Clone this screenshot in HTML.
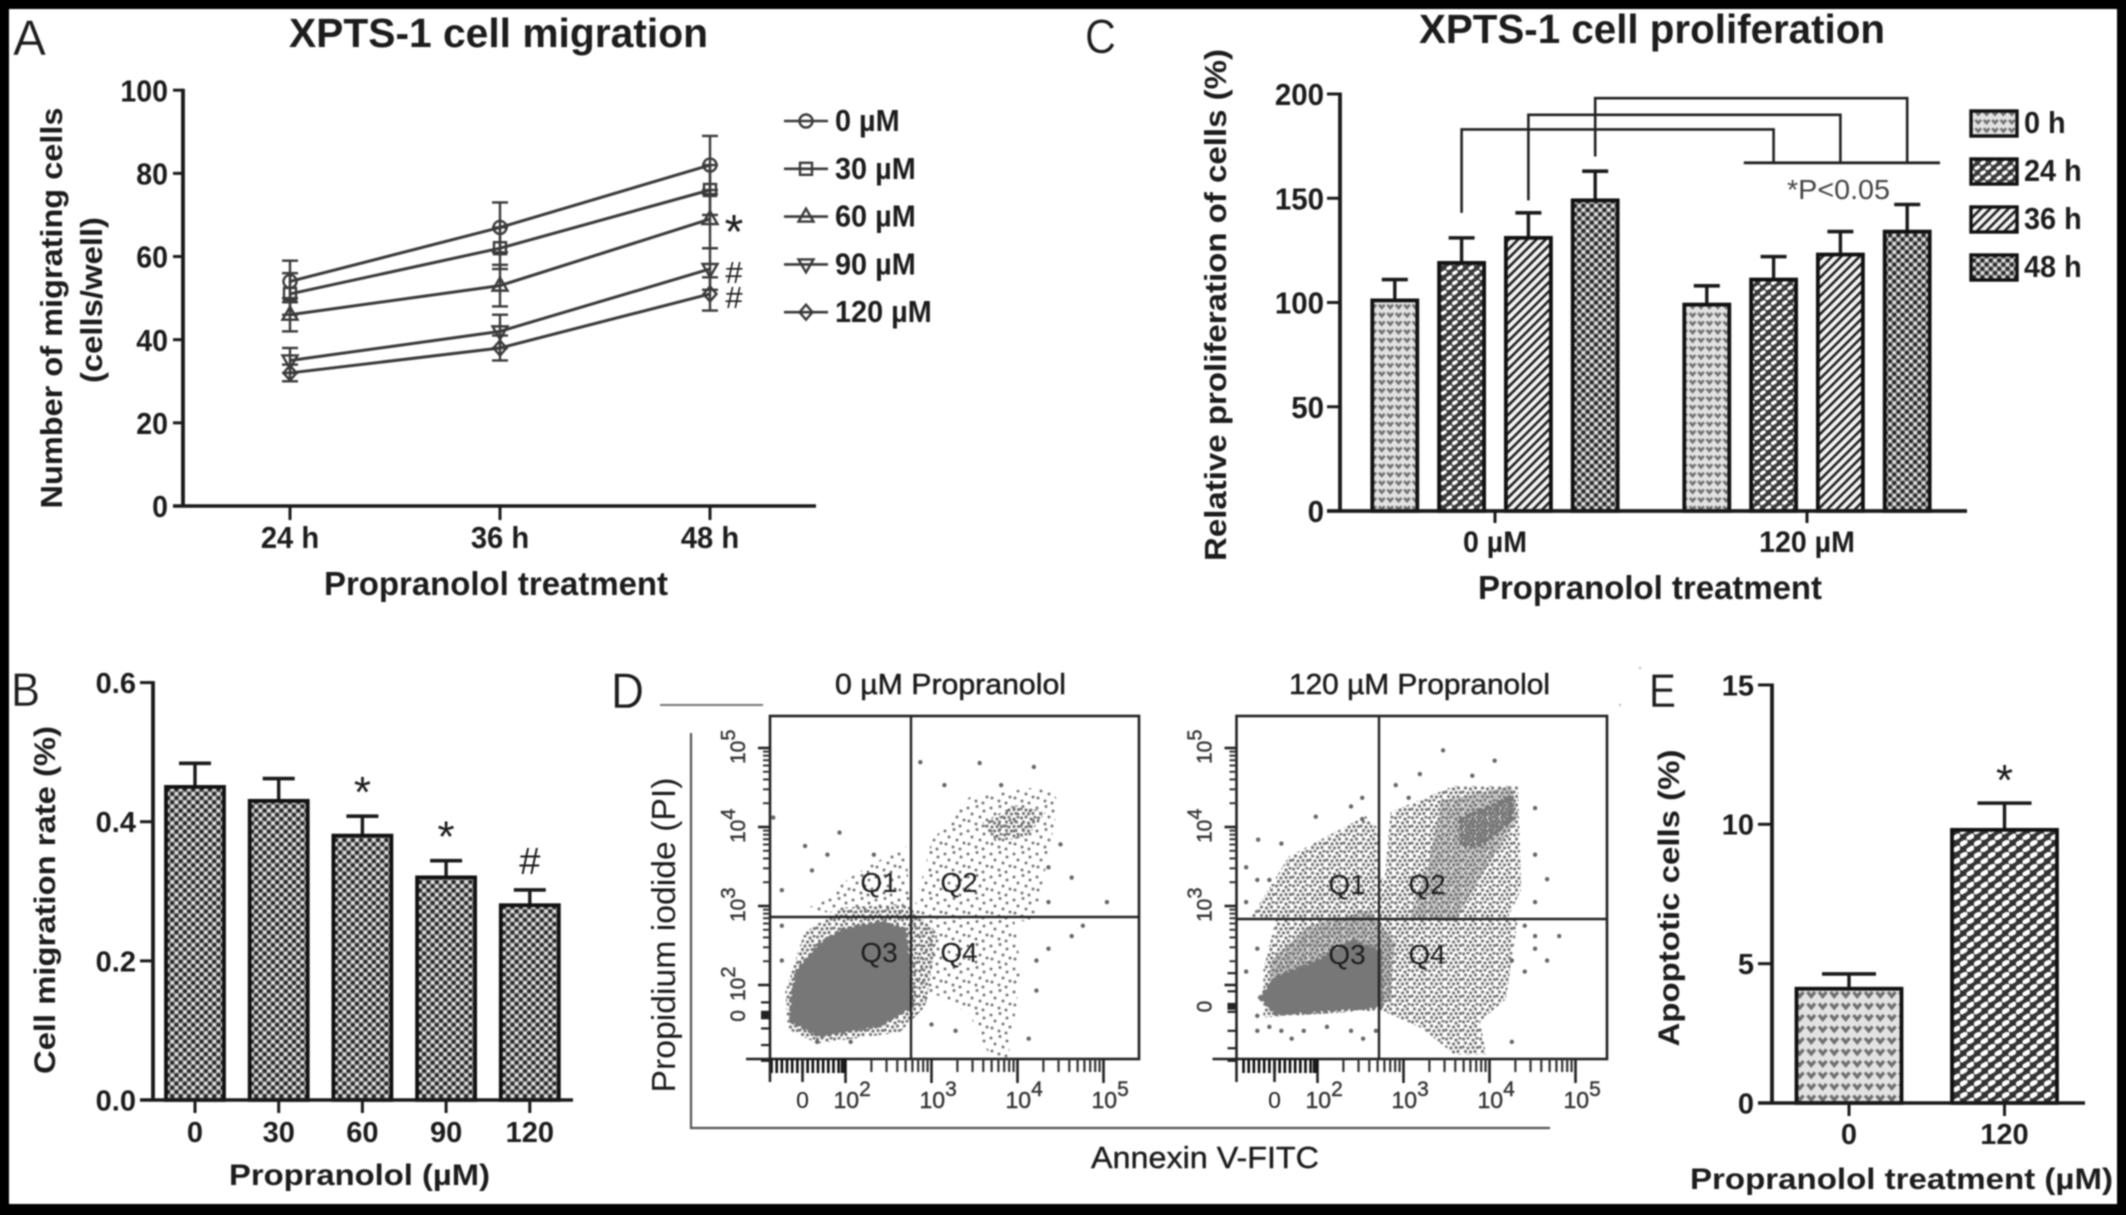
<!DOCTYPE html>
<html lang="en"><head><meta charset="utf-8"><title>XPTS-1 propranolol figure</title>
<style>
html,body{margin:0;padding:0;background:#000;width:2126px;height:1215px;overflow:hidden}
svg{display:block;filter:blur(.75px);font-family:"Liberation Sans",sans-serif}
text{fill:#1c1c1c}
</style></head><body>
<svg id="fig" xmlns="http://www.w3.org/2000/svg" width="2126" height="1215" viewBox="0 0 2126 1215">
<defs>
<pattern id="pHeart" width="8.4" height="8.4" patternUnits="userSpaceOnUse"><rect width="8.4" height="8.4" fill="#e2e2e2"/><path d="M1.4 2.2 L4.2 5.4 L7 2.2" fill="none" stroke="#707070" stroke-width="2.6"/></pattern>
<pattern id="pHeartBig" width="11.5" height="11.5" patternUnits="userSpaceOnUse"><rect width="11.5" height="11.5" fill="#e2e2e2"/><path d="M2 3 L5.7 7.4 L9.5 3" fill="none" stroke="#707070" stroke-width="3.3"/></pattern>
<pattern id="pDash" width="11" height="10" patternUnits="userSpaceOnUse"><rect width="11" height="10" fill="#3a3a3a"/><path d="M1.6 3.4 L4 2 M7.1 8.4 L9.5 7" stroke="#fff" stroke-width="3.6" stroke-linecap="round"/></pattern>
<pattern id="pDashBig" width="14" height="12" patternUnits="userSpaceOnUse"><rect width="14" height="12" fill="#333"/><path d="M1.8 4 L5.2 2 M8.8 10 L12.2 8" stroke="#fff" stroke-width="4.9" stroke-linecap="round"/></pattern>
<pattern id="pHatch" width="6.5" height="6.5" patternUnits="userSpaceOnUse" patternTransform="rotate(45)"><rect width="6.5" height="6.5" fill="#f4f4f4"/><rect width="2.6" height="6.5" fill="#222"/></pattern>
<pattern id="pDots" width="8.4" height="8.4" patternUnits="userSpaceOnUse"><rect width="8.4" height="8.4" fill="#949494"/><circle cx="0" cy="0" r="2" fill="#262626"/><circle cx="8.4" cy="0" r="2" fill="#262626"/><circle cx="0" cy="8.4" r="2" fill="#262626"/><circle cx="8.4" cy="8.4" r="2" fill="#262626"/><circle cx="4.2" cy="4.2" r="2" fill="#262626"/><circle cx="4.2" cy="0" r="1.6" fill="#eaeaea"/><circle cx="4.2" cy="8.4" r="1.6" fill="#eaeaea"/><circle cx="0" cy="4.2" r="1.6" fill="#eaeaea"/><circle cx="8.4" cy="4.2" r="1.6" fill="#eaeaea"/></pattern>
<pattern id="pSparse" width="23" height="23" patternUnits="userSpaceOnUse" fill="#777"><circle cx="2" cy="3" r="1.5"/><circle cx="11" cy="1.5" r="1.5"/><circle cx="18" cy="6" r="1.5"/><circle cx="6" cy="9" r="1.5"/><circle cx="14" cy="12" r="1.5"/><circle cx="21" cy="15" r="1.5"/><circle cx="3" cy="16" r="1.5"/><circle cx="10" cy="19" r="1.5"/><circle cx="17" cy="21" r="1.5"/></pattern>
<pattern id="pMedium" width="17" height="17" patternUnits="userSpaceOnUse" fill="#777"><circle cx="1.5" cy="2" r="1.6"/><circle cx="6" cy="1" r="1.6"/><circle cx="11" cy="3" r="1.6"/><circle cx="15" cy="1" r="1.6"/><circle cx="3.5" cy="6" r="1.6"/><circle cx="8.5" cy="7" r="1.6"/><circle cx="13.5" cy="6" r="1.6"/><circle cx="1" cy="10" r="1.6"/><circle cx="6" cy="11" r="1.6"/><circle cx="11" cy="10.5" r="1.6"/><circle cx="15.5" cy="10.5" r="1.6"/><circle cx="3.5" cy="14.5" r="1.6"/><circle cx="8.5" cy="15" r="1.6"/><circle cx="13" cy="14.5" r="1.6"/></pattern>
<pattern id="pDense" width="12" height="12" patternUnits="userSpaceOnUse" fill="#777"><circle cx="1" cy="1.5" r="1.9"/><circle cx="5" cy="1" r="1.9"/><circle cx="9" cy="2" r="1.9"/><circle cx="3" cy="4.7" r="1.9"/><circle cx="7" cy="5" r="1.9"/><circle cx="11" cy="5" r="1.9"/><circle cx="1" cy="8" r="1.9"/><circle cx="5" cy="8.5" r="1.9"/><circle cx="9" cy="8" r="1.9"/><circle cx="3" cy="11" r="1.9"/><circle cx="7.5" cy="11.5" r="1.9"/><circle cx="11" cy="11" r="1.9"/></pattern>
</defs>
<rect x="0" y="0" width="2126" height="1215" fill="#000"/>
<rect x="9" y="9" width="2108" height="1195" fill="#fff"/>

<g id="panelA">
<text x="13" y="55" font-size="50" stroke="#fff" stroke-width=".4" textLength="33" lengthAdjust="spacingAndGlyphs">A</text>
<text x="289" y="47" font-size="41" font-weight="700" textLength="419" lengthAdjust="spacingAndGlyphs">XPTS-1 cell migration</text>
<text transform="rotate(-90 62 308)" x="62" y="308" font-size="31" font-weight="700" text-anchor="middle" textLength="401" lengthAdjust="spacingAndGlyphs">Number of migrating cells</text>
<text transform="rotate(-90 102 300)" x="102" y="300" font-size="31" font-weight="700" text-anchor="middle" textLength="166" lengthAdjust="spacingAndGlyphs">(cells/well)</text>
<text x="324" y="595" font-size="33" font-weight="700" textLength="344" lengthAdjust="spacingAndGlyphs">Propranolol treatment</text>
</g>

<g id="panelC">
<text x="1085" y="53" font-size="48" stroke="#fff" stroke-width=".4" textLength="31" lengthAdjust="spacingAndGlyphs">C</text>
<text x="1419" y="43" font-size="41" font-weight="700" textLength="466" lengthAdjust="spacingAndGlyphs">XPTS-1 cell proliferation</text>
<text transform="rotate(-90 1226 305)" x="1226" y="305" font-size="31" font-weight="700" text-anchor="middle" textLength="512" lengthAdjust="spacingAndGlyphs">Relative proliferation of cells (%)</text>
<text x="1478" y="599" font-size="33" font-weight="700" textLength="344" lengthAdjust="spacingAndGlyphs">Propranolol treatment</text>
<text x="1787" y="199" font-size="28" fill="#444" style="fill:#444" textLength="103" lengthAdjust="spacingAndGlyphs">*P&lt;0.05</text>
</g>

<g id="panelB">
<text x="11" y="706" font-size="47" stroke="#fff" stroke-width=".4" textLength="29" lengthAdjust="spacingAndGlyphs">B</text>
<text transform="rotate(-90 55 900)" x="55" y="900" font-size="30" font-weight="700" text-anchor="middle" textLength="348" lengthAdjust="spacingAndGlyphs">Cell migration rate (%)</text>
<text x="229" y="1185" font-size="30" font-weight="700" textLength="261" lengthAdjust="spacingAndGlyphs">Propranolol (µM)</text>
</g>

<g id="panelD">
<text x="611" y="708" font-size="50" stroke="#fff" stroke-width=".4" textLength="33" lengthAdjust="spacingAndGlyphs">D</text>
<line x1="660" x2="763" y1="705" y2="705" stroke="#777" stroke-width="2"/>
<text x="835" y="694" font-size="29" stroke="#1c1c1c" stroke-width=".5" textLength="231" lengthAdjust="spacingAndGlyphs">0 µM Propranolol</text>
<text x="1289" y="694" font-size="29" stroke="#1c1c1c" stroke-width=".5" textLength="261" lengthAdjust="spacingAndGlyphs">120 µM Propranolol</text>
<path d="M691 733 V1128 H1550" fill="none" stroke="#555" stroke-width="2.2"/>
<text transform="rotate(-90 675 935)" x="675" y="935" font-size="33" text-anchor="middle" textLength="315" lengthAdjust="spacingAndGlyphs">Propidium iodide (PI)</text>
<text x="1091" y="1168" font-size="31" stroke="#1c1c1c" stroke-width=".4" textLength="228" lengthAdjust="spacingAndGlyphs">Annexin V-FITC</text>
</g>

<g id="panelE">
<text x="1649" y="707" font-size="47" stroke="#fff" stroke-width=".4" textLength="27" lengthAdjust="spacingAndGlyphs">E</text>
<circle cx="1640" cy="668" r="1.2" fill="#bbb"/>
<circle cx="1620" cy="705" r="1.2" fill="#bbb"/>
<text transform="rotate(-90 1679 898)" x="1679" y="898" font-size="30" font-weight="700" text-anchor="middle" textLength="297" lengthAdjust="spacingAndGlyphs">Apoptotic cells (%)</text>
<text x="1690" y="1189" font-size="30" font-weight="700" textLength="423" lengthAdjust="spacingAndGlyphs">Propranolol treatment (µM)</text>
</g>
</svg>
<script>
/* ---------- Panel A data ---------- */
const migrationTimes = ['24 h', '36 h', '48 h'];
const migrationDoses = ['0 µM', '30 µM', '60 µM', '90 µM', '120 µM'];
const migration0 = [54, 67, 82];
const migration30 = [51, 62, 76];
const migration60 = [46, 53, 69];
const migration90 = [35, 42, 57];
const migration120 = [32, 38, 51];
const migrationErr0 = [5, 6, 7];
const migrationErr30 = [5, 5, 6];
const migrationErr60 = [4, 5, 7];
const migrationErr90 = [3, 4, 5];
const migrationErr120 = [2, 3, 4];
const migrationTicks = [0, 20, 40, 60, 80, 100];
const migrationMarks = ['', '', '*', '#', '#'];

/* ---------- Panel B data ---------- */
const rateDoses = ['0', '30', '60', '90', '120'];
const rateValues = [0.45, 0.43, 0.38, 0.32, 0.28];
const rateErrors = [0.034, 0.032, 0.028, 0.024, 0.022];
const rateTicks = ['0.0', '0.2', '0.4', '0.6'];
const rateMarks = ['', '', '*', '*', '#'];

/* ---------- Panel C data ---------- */
const prolifGroups = ['0 µM', '120 µM'];
const prolifTimes = ['0 h', '24 h', '36 h', '48 h'];
const prolifControl = [101, 119, 131, 149];
const prolifTreated = [99, 111, 123, 134];
const prolifControlErr = [10, 12, 12, 14];
const prolifTreatedErr = [9, 11, 11, 13];
const prolifTicks = [0, 50, 100, 150, 200];
const bracketStart = [143, 149, 170];
const bracketTop = [183, 190, 198];
const bracketBase = [167];

/* ---------- Panel D data: log10 fluorescence [annexin, PI] ---------- */
const flowXExponents = [2, 3, 4, 5];
const flowYExponents = [2, 3, 4, 5];
const leftYLabelExponents = [2, 3, 4, 5];
const rightYLabelExponents = [3, 4, 5];
const flowMantissas = [2, 3, 4, 5, 6, 7, 8, 9];
const flowXLinearTicks = [1.14, 1.2, 1.26, 1.32, 1.38, 1.44, 1.5, 1.56, 1.62, 1.68, 1.74, 1.8, 1.86, 1.92, 1.96, 1.99];
const leftYLinearTicks = [1.04, 1.24, 1.45, 1.58, 1.6, 1.62, 1.64, 1.66, 1.78];
const rightYLinearTicks = [1.04, 1.2, 1.42, 1.66, 1.7, 1.72, 1.74, 1.76, 1.92, 2.15];
const leftCore = [[1.37,1.82],[1.44,2.19],[1.7,2.52],[1.96,2.7],[2.41,2.8],[2.7,2.7],[2.74,2.19],[2.78,1.73],[2.41,1.49],[1.7,1.35],[1.37,1.54]];
const leftHalo = [[1.3,1.91],[1.52,2.66],[1.96,2.98],[2.7,3.03],[3.07,2.66],[2.93,1.73],[2.63,1.4],[1.67,1.26],[1.33,1.44]];
const leftQ4 = [[2.78,2.84],[3.96,2.84],[4.04,2.19],[3.96,1.54],[3.89,1.08],[3.67,1.12],[3.44,1.63],[3.07,1.87],[2.78,1.73]];
const leftQ2 = [[2.78,2.89],[3.0,3.82],[3.44,4.38],[4.33,4.52],[4.48,4.33],[4.33,3.49],[4.19,2.8]];
const leftQ1 = [[1.52,2.93],[2.11,3.4],[2.7,3.77],[2.76,2.89]];
const leftSpot = [[3.59,4.05],[3.96,4.28],[4.33,4.19],[4.11,3.87],[3.74,3.82]];
const leftOutliers = [[2.87,4.82],[3.56,4.81],[4.19,4.76],[3.15,4.53],[3.81,4.53],[1.93,3.93],[1.16,4.12],[1.53,3.76],[1.79,3.65],[2.33,3.65],[1.61,3.45],[1.26,3.2],[4.5,3.78],[4.63,3.36],[4.36,3.49],[5.04,3.05],[4.36,3.05],[4.76,2.75],[4.63,2.62],[4.36,2.46],[4.22,2.31],[4.22,1.93],[1.26,2.75],[1.26,2.31],[1.67,1.28],[2.06,1.28],[3.28,1.42],[4.13,1.32],[3.0,1.5]];
const rightCore = [[1.33,1.84],[1.52,2.1],[1.96,2.28],[2.41,2.56],[2.74,2.42],[2.74,1.73],[2.19,1.68],[1.52,1.63]];
const rightMid = [[1.45,2.3],[1.9,2.75],[2.6,2.95],[2.9,2.55],[2.85,1.8],[2.6,1.7],[1.45,1.9]];
const rightHalo = [[1.37,2.19],[1.52,2.84],[1.96,3.21],[2.7,3.4],[3.3,2.84],[2.85,2.19],[2.74,1.68],[1.37,1.59]];
const rightUpperDense = [[3.44,4.33],[4.26,4.52],[4.33,4.14],[3.89,3.35],[3.59,2.8],[3.07,2.84],[3.3,3.59]];
const rightSpot = [[3.67,4.1],[4.26,4.38],[4.26,4.1],[3.89,3.77],[3.67,3.77]];
const rightQ2 = [[2.74,2.84],[2.85,4.19],[3.59,4.52],[4.33,4.52],[4.37,3.21],[4.19,2.8]];
const rightQ1 = [[1.22,2.84],[1.67,3.63],[2.56,4.14],[2.72,3.96],[2.74,2.84]];
const rightQ4 = [[2.74,2.84],[4.33,2.84],[4.19,1.82],[3.89,1.54],[3.96,1.12],[3.59,1.12],[3.22,1.45],[2.74,1.68]];
const rightOutliers = [[3.46,4.97],[4.06,4.84],[3.19,4.67],[3.8,4.65],[2.91,4.53],[3.06,4.37],[2.52,4.37],[2.39,4.26],[2.52,4.1],[1.98,4.13],[1.58,3.79],[1.31,3.84],[1.17,3.49],[1.3,3.33],[1.44,3.33],[1.17,3.05],[4.53,4.24],[4.53,3.65],[4.67,3.34],[4.53,3.05],[4.41,2.75],[4.81,2.62],[4.53,2.62],[4.53,2.46],[4.67,2.31],[4.41,2.17],[4.26,2.31],[1.17,2.17],[1.3,2.46],[1.3,1.61],[1.3,1.42],[1.44,1.47],[1.58,1.42],[1.7,1.32],[1.84,1.42],[2.11,1.47],[2.39,1.42],[2.53,1.32],[2.68,1.42],[4.26,1.28]];
const quadrantNames = ['Q1', 'Q2', 'Q3', 'Q4'];

/* ---------- Panel E data ---------- */
const apoptosisDoses = ['0', '120'];
const apoptosisValues = [4.1, 9.8];
const apoptosisErrors = [0.53, 0.96];
const apoptosisTicks = [0, 5, 10, 15];

/* ---------- helpers ---------- */
const NS = 'http://www.w3.org/2000/svg';
function make(tag, attrs, parent) {
  const el = document.createElementNS(NS, tag);
  for (const k in attrs) el.setAttribute(k, attrs[k]);
  parent.appendChild(el);
  return el;
}
function label(el, name) {
  
  
  return el;
}
function addLine(parent, name, x1, y1, x2, y2, width, color) {
  return label(make('line', {x1, y1, x2, y2, stroke: color || '#1a1a1a', 'stroke-width': width}, parent), name);
}
function addText(parent, name, str, x, y, size, anchor, weight, squeeze) {
  const t = make('text', {x, y, 'font-size': size, 'text-anchor': anchor || 'start', 'font-weight': weight || 700}, parent);
  t.textContent = str;
  if (squeeze) {
    t.setAttribute('textLength', t.getComputedTextLength() * squeeze);
    t.setAttribute('lengthAdjust', 'spacingAndGlyphs');
  }
  return label(t, name);
}
function drawBar(parent, name, cx, w, yTop, yBase, yErr, capW, fill) {
  addLine(parent, name + '-error-stem', cx, yErr, cx, yTop, 3.4);
  addLine(parent, name + '-error-cap', cx - capW / 2, yErr, cx + capW / 2, yErr, 3.6);
  const r = make('rect', {x: cx - w / 2, y: yTop, width: w, height: yBase - yTop, fill: 'url(#' + fill + ')', stroke: '#111', 'stroke-width': 3.8}, parent);
  return label(r, name);
}
function drawYAxis(parent, prefix, ax, tickX, top, base, ticks, yScale, labelRight, size, squeeze) {
  addLine(parent, prefix + '-y-axis', ax, top - 1.5, ax, base + 1.5, 3.8);
  ticks.forEach(function (v) {
    const y = yScale(parseFloat(v));
    addLine(parent, prefix + '-y-tick', tickX, y, ax, y, 3);
    addText(parent, prefix + '-y-tick-label', String(v), labelRight, y + size * 0.36, size, 'end', 700, squeeze);
  });
}

/* ---------- Panel A ---------- */
(function () {
  const g = document.getElementById('panelA');
  const y = function (v) { return 506 - v * 4.158; };
  const x = function (i) { return 290 + i * 210; };
  drawYAxis(g, 'migration', 183, 173, y(100), y(0), migrationTicks, y, 168, 31, 0.92);
  addLine(g, 'migration-x-axis', 173, y(0), 816, y(0), 3.6);
  migrationTimes.forEach(function (c, i) {
    addLine(g, 'migration-x-tick', x(i), y(0), x(i), 520, 3);
    addText(g, 'migration-x-tick-label', c, x(i), 548, 31, 'middle', 700, 0.94);
  });
  const series = [migration0, migration30, migration60, migration90, migration120];
  const errors = [migrationErr0, migrationErr30, migrationErr60, migrationErr90, migrationErr120];
  const stroke = '#3a3a3a';
  const shapes = [
    function (p, n, cx, cy) { return label(make('circle', {cx, cy, r: 6.5, fill: 'none', stroke, 'stroke-width': 2.4}, p), n); },
    function (p, n, cx, cy) { return label(make('rect', {x: cx - 6, y: cy - 6, width: 12, height: 12, fill: 'none', stroke, 'stroke-width': 2.4}, p), n); },
    function (p, n, cx, cy) { return label(make('path', {d: 'M' + cx + ' ' + (cy - 8) + 'l7.5 13h-15z', fill: 'none', stroke, 'stroke-width': 2.4}, p), n); },
    function (p, n, cx, cy) { return label(make('path', {d: 'M' + cx + ' ' + (cy + 8) + 'l7.5 -13h-15z', fill: 'none', stroke, 'stroke-width': 2.4}, p), n); },
    function (p, n, cx, cy) { return label(make('path', {d: 'M' + cx + ' ' + (cy - 7.5) + 'l6.5 7.5l-6.5 7.5l-6.5 -7.5z', fill: 'none', stroke, 'stroke-width': 2.4}, p), n); }
  ];
  series.forEach(function (vals, s) {
    const name = 'series-' + migrationDoses[s].replace(' µM', 'um');
    const pts = vals.map(function (v, i) { return x(i) + ',' + y(v); }).join(' ');
    label(make('polyline', {points: pts, fill: 'none', stroke, 'stroke-width': 3}, g), name + '-line');
    vals.forEach(function (v, i) {
      const e = errors[s][i];
      addLine(g, name + '-error-bar', x(i), y(v + e), x(i), y(v - e), 2.4, stroke);
      addLine(g, name + '-error-cap', x(i) - 8, y(v + e), x(i) + 8, y(v + e), 2.4, stroke);
      addLine(g, name + '-error-cap', x(i) - 8, y(v - e), x(i) + 8, y(v - e), 2.4, stroke);
      shapes[s](g, name + '-point', x(i), y(v));
    });
    const last = vals[vals.length - 1];
    if (migrationMarks[s] === '*') {
      addText(g, 'significance-mark', '*', 734, y(last) + 29, 48, 'middle', 400);
    } else if (migrationMarks[s]) {
      addText(g, 'significance-mark', migrationMarks[s], 734, y(last) + 14, 31, 'middle', 400);
    }
    const ly = 121 + s * 47.8;
    addLine(g, 'legend-line-' + s, 784, ly, 828, ly, 2.6, stroke);
    shapes[s](g, 'legend-marker-' + s, 806, ly);
    addText(g, 'legend-label', migrationDoses[s], 835, ly + 10, 31, 'start', 700, 0.93);
  });
})();

/* ---------- Panel B ---------- */
(function () {
  const g = document.getElementById('panelB');
  const y = function (v) { return 1100 - v * 695.7; };
  const x = function (i) { return 195 + i * 83.7; };
  drawYAxis(g, 'rate', 153, 140, y(0.6), y(0), rateTicks, y, 136, 29);
  rateDoses.forEach(function (d, i) {
    drawBar(g, 'rate-bar-' + d, x(i), 58, y(rateValues[i]), y(0), y(rateValues[i] + rateErrors[i]), 32, 'pDots');
    addLine(g, 'rate-x-tick', x(i), y(0), x(i), 1113, 3);
    addText(g, 'rate-x-tick-label', d, x(i), 1142, 29, 'middle');
    if (rateMarks[i]) {
      const top = y(rateValues[i] + rateErrors[i]);
      if (rateMarks[i] === '*') {
        addText(g, 'significance-mark', '*', x(i), top - 9, 44, 'middle', 400);
      } else {
        addText(g, 'significance-mark', '#', x(i), top - 16, 38, 'middle', 400);
      }
    }
  });
  addLine(g, 'rate-x-axis', 140, y(0), 573, y(0), 3.6);
})();

/* ---------- Panel C ---------- */
(function () {
  const g = document.getElementById('panelC');
  const y = function (v) { return 511 - v * 2.085; };
  const group = function (i) { return 1495 + i * 312; };
  const x = function (i, j) { return group(i) + (j - 1.5) * 66.8; };
  const fills = ['pHeart', 'pDash', 'pHatch', 'pDots'];
  drawYAxis(g, 'prolif', 1340, 1327, y(200), y(0), prolifTicks, y, 1324, 31, 0.95);
  [prolifControl, prolifTreated].forEach(function (vals, i) {
    const errs = i === 0 ? prolifControlErr : prolifTreatedErr;
    vals.forEach(function (v, j) {
      drawBar(g, 'prolif-bar-' + prolifGroups[i].replace(' µM', 'um') + '-' + prolifTimes[j].replace(' ', ''), x(i, j), 45, y(v), y(0), y(v + errs[j]), 26, fills[j]);
    });
    addLine(g, 'prolif-x-tick', group(i), y(0), group(i), 523, 3);
    addText(g, 'prolif-x-tick-label', prolifGroups[i], group(i), 552, 30, 'middle', 700, 0.95);
  });
  addLine(g, 'prolif-x-axis', 1327, y(0), 1967, y(0), 3.8);
  bracketTop.forEach(function (top, k) {
    const a = x(0, k + 1), b = x(1, k + 1);
    label(make('path', {d: 'M' + a + ' ' + y(bracketStart[k]) + 'V' + y(top) + 'H' + b + 'V' + y(bracketBase[0]), fill: 'none', stroke: '#222', 'stroke-width': 2.6}, g), 'significance-bracket');
  });
  addLine(g, 'significance-baseline', x(1, 0) + 37, y(bracketBase[0]), 1940, y(bracketBase[0]), 2.8, '#222');
  prolifTimes.forEach(function (t, j) {
    const ly = 111 + j * 48;
    label(make('rect', {x: 1971, y: ly, width: 46, height: 25, fill: 'url(#' + fills[j] + ')', stroke: '#111', 'stroke-width': 3.4}, g), 'legend-swatch-' + t.replace(' ', ''));
    addText(g, 'legend-label', t, 2024, ly + 22, 31, 'start', 700, 0.93);
  });
})();

/* ---------- Panel D ---------- */
function drawFlow(name, boxL, boxR, x100, gateX, gateY, layers, outliers, yLinear, zeroLog, yLabels) {
  const g = document.getElementById('panelD');
  const boxT = 716, boxB = 1059;
  const x = function (d) { return x100 + (d - 2) * 86; };
  const y = function (d) { return 985 - (d - 2) * 79; };
  const pts = function (arr) { return arr.map(function (p) { return x(p[0]) + ',' + y(p[1]); }).join(' '); };
  layers.forEach(function (l) {
    const attrs = {points: pts(l[0]), fill: l[1]};
    if (l[3]) {
      attrs.stroke = '#777';
      attrs['stroke-width'] = 4;
      attrs['stroke-dasharray'] = '1 6';
      attrs['stroke-linecap'] = 'round';
    }
    if (l[4]) attrs['fill-opacity'] = l[4];
    label(make('polygon', attrs, g), name + '-population-' + l[2]);
  });
  outliers.forEach(function (p) {
    label(make('circle', {cx: x(p[0]), cy: y(p[1]), r: 2.2, fill: '#666'}, g), name + '-event');
  });
  label(make('rect', {x: boxL, y: boxT, width: boxR - boxL, height: boxB - boxT, fill: 'none', stroke: '#222', 'stroke-width': 2.6}, g), name + '-frame');
  addLine(g, name + '-gate-vertical', gateX, boxT, gateX, boxB, 2.4, '#222');
  addLine(g, name + '-gate-horizontal', boxL, gateY, boxR, gateY, 2.4, '#222');
  addLine(g, name + '-bottom-rule', boxL - 24, boxB, boxL, boxB, 2.6, '#222');

  /* y ticks */
  flowYExponents.forEach(function (e) {
    addLine(g, name + '-y-major-tick', boxL - 12, y(e), boxL, y(e), 2.6, '#222');
    if (yLabels.indexOf(e) >= 0) {
      const t = make('text', {transform: 'rotate(-90 ' + (boxL - 25) + ' ' + (y(e) + 16) + ')', x: boxL - 25, y: y(e) + 16, 'font-size': 21, stroke: '#333', 'stroke-width': .4, style: 'fill:#333'}, g);
      t.appendChild(document.createTextNode('10'));
      const s = make('tspan', {dy: -10, 'font-size': 20}, t);
      s.textContent = String(e);
      label(t, name + '-y-tick-label');
    }
    if (e < 5) flowMantissas.forEach(function (m) {
      const yy = y(e + Math.log10(m));
      addLine(g, name + '-y-minor-tick', boxL - 7, yy, boxL, yy, 2, '#333');
    });
  });
  yLinear.forEach(function (d) {
    addLine(g, name + '-y-minor-tick', boxL - 9, y(d), boxL, y(d), 2.2, '#222');
  });
  const z = make('text', {transform: 'rotate(-90 ' + (boxL - 25) + ' ' + (y(zeroLog) + 6) + ')', x: boxL - 25, y: y(zeroLog) + 6, 'font-size': 21, stroke: '#333', 'stroke-width': .4, style: 'fill:#333'}, g);
  z.textContent = '0';
  label(z, name + '-y-tick-label');

  /* x ticks */
  flowXExponents.forEach(function (e) {
    addLine(g, name + '-x-major-tick', x(e), boxB, x(e), 1083, 2.6, '#222');
    const t = make('text', {x: x(e) - 12, y: 1108, 'font-size': 23, stroke: '#333', 'stroke-width': .4, style: 'fill:#333'}, g);
    t.appendChild(document.createTextNode('10'));
    const s = make('tspan', {dy: -12, 'font-size': 21}, t);
    s.textContent = String(e);
    label(t, name + '-x-tick-label');
    if (e < 5) flowMantissas.forEach(function (m) {
      const xx = x(e + Math.log10(m));
      addLine(g, name + '-x-minor-tick', xx, boxB, xx, 1072, 2.2, '#333');
    });
  });
  flowXLinearTicks.forEach(function (d) {
    addLine(g, name + '-x-minor-tick', x(d), boxB, x(d), 1073, 2.6, '#111');
  });
  addLine(g, name + '-x-major-tick', x(1.5), boxB, x(1.5), 1082, 2.6, '#222');
  addLine(g, name + '-x-major-tick', boxL, boxB, boxL, 1082, 2.6, '#222');
  addText(g, name + '-x-tick-label', '0', x(1.5), 1108, 23, 'middle', 400);

  /* quadrant labels */
  quadrantNames.forEach(function (q, i) {
    const cx = gateX + (i % 2 === 0 ? -32 : 48);
    const cy = i < 2 ? gateY - 25 : gateY + 45;
    addText(g, 'quadrant-label-' + q, q, cx, cy, 28, 'middle', 400);
  });
}
drawFlow('flow-left', 770, 1139, 845.5, 911, 917, [
  [leftQ4, 'url(#pSparse)', 'q4'],
  [leftQ2, 'url(#pSparse)', 'q2'],
  [leftQ1, 'url(#pSparse)', 'q1'],
  [leftSpot, 'url(#pMedium)', 'q2-cluster'],
  [leftHalo, 'url(#pMedium)', 'q3-halo'],
  [leftCore, '#777', 'q3-core', true]
], leftOutliers, leftYLinearTicks, 1.61, leftYLabelExponents);
drawFlow('flow-right', 1236.5, 1607, 1317.5, 1379, 919, [
  [rightQ2, 'url(#pMedium)', 'q2'],
  [rightQ1, 'url(#pMedium)', 'q1'],
  [rightQ4, 'url(#pMedium)', 'q4'],
  [rightUpperDense, 'url(#pDense)', 'q2-dense', false, 0.5],
  [rightSpot, 'url(#pDense)', 'q2-cluster', true],
  [rightHalo, 'url(#pMedium)', 'q3-halo'],
  [rightMid, 'url(#pDense)', 'q3-mid', false, 0.6],
  [rightCore, '#777', 'q3-core', true]
], rightOutliers, rightYLinearTicks, 1.73, rightYLabelExponents);

/* ---------- Panel E ---------- */
(function () {
  const g = document.getElementById('panelE');
  const y = function (v) { return 1103 - v * 27.87; };
  const x = function (i) { return 1849 + i * 155.5; };
  const fills = ['pHeartBig', 'pDashBig'];
  drawYAxis(g, 'apoptosis', 1772, 1758, y(15), y(0), apoptosisTicks, y, 1754, 29);
  apoptosisDoses.forEach(function (d, i) {
    drawBar(g, 'apoptosis-bar-' + d, x(i), 105, y(apoptosisValues[i]), y(0), y(apoptosisValues[i] + apoptosisErrors[i]), 54, fills[i]);
    addLine(g, 'apoptosis-x-tick', x(i), y(0), x(i), 1116, 3);
    addText(g, 'apoptosis-x-tick-label', d, x(i), 1144, 29, 'middle');
  });
  addLine(g, 'apoptosis-x-axis', 1758, y(0), 2085, y(0), 3.6);
  addText(g, 'significance-mark', '*', x(1), y(apoptosisValues[1] + apoptosisErrors[1]) - 8, 44, 'middle', 400);
})();
</script>
</body></html>
